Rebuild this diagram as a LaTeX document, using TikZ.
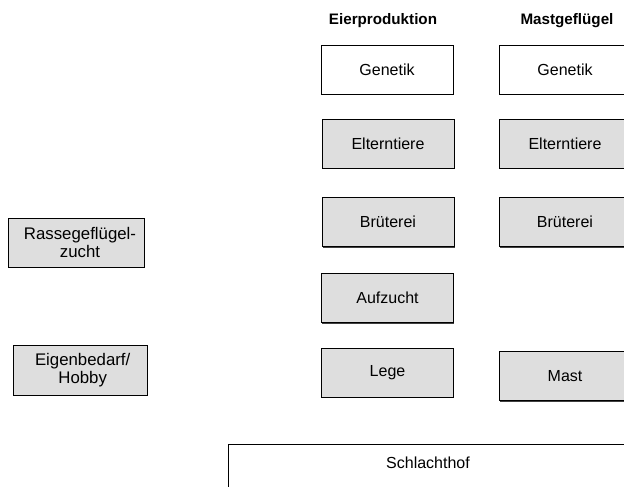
\documentclass[tikz,border=0pt]{standalone}
\usepackage{fontspec}
\setmainfont{Liberation Sans}
\usetikzlibrary{shadows}
\definecolor{boxgray}{HTML}{DEDEDE}
\tikzset{
  stage/.style={draw=black, line width=0.6pt, fill=boxgray, rectangle,
    minimum width=99pt, minimum height=36.75pt, inner sep=0pt,
    font=\fontsize{12}{13.5}\selectfont,
    drop shadow={shadow xshift=0.4pt, shadow yshift=-0.9pt, opacity=1, fill=black!75}},
  toplevel/.style={stage, fill=white},
  sidebox/.style={stage, align=center, font=\fontsize{12.6}{13.5}\selectfont},
  heading/.style={font=\fontsize{11.4}{13}\selectfont\bfseries, inner sep=0pt},
  panel/.style={draw=black, line width=0.6pt, fill=white, rectangle, inner sep=0pt}
}
\begin{document}
\begin{tikzpicture}[x=0.75pt, y=-0.75pt]
  \useasboundingbox (0,0) rectangle (624,486);
  \clip (0,0) rectangle (624,486);

  % column headings
  \node[heading] (eggs) at (383,21) {Eierproduktion};
  \node[heading] (meat) at (567,21) {Mastgeflügel};

  % egg production chain
  \node[toplevel] (gen1) at (387,69.5) {Genetik};
  \node[stage] (elt1) at (388,143.5) {Elterntiere};
  \node[stage] (bru1) at (388,222) {Brüterei};
  \node[stage] (auf1) at (387.5,298) {Aufzucht};
  \node[stage] (leg1) at (387.5,372.5) {Lege};

  % broiler chain
  \node[toplevel] (gen2) at (565,69.5) {Genetik};
  \node[stage] (elt2) at (565,143.5) {Elterntiere};
  \node[stage] (bru2) at (565,222) {Brüterei};
  \node[stage] (mast) at (565,376) {Mast};

  % other keepers
  \node[sidebox, minimum width=102pt, text width=96pt, xshift=0pt] (rasse) at (76,242.5) {\hspace*{6pt}Rassegeflügel-\\\hspace*{6pt}zucht};
  \node[sidebox, minimum width=100.5pt, minimum height=37.5pt] (eigen) at (80,370) {\hspace*{4pt}Eigenbedarf/\\\hspace*{4pt}Hobby};

  % slaughterhouse
  \node[panel, anchor=north west, minimum width=310pt, minimum height=60pt] (schlachthof) at (228,444) {};
  \node[font=\fontsize{12}{13.5}\selectfont, inner sep=0pt] (schlachthoftext) at (428,463) {Schlachthof};
\end{tikzpicture}
\end{document}
